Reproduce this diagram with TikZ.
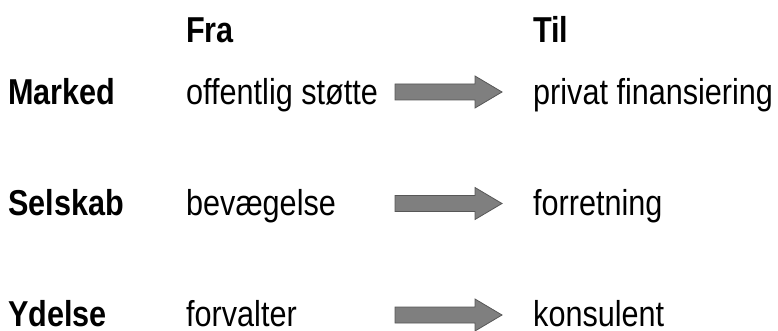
\documentclass[tikz,border=0pt]{standalone}
\usepackage{fontspec}
\setmainfont{Liberation Sans}[FakeStretch=0.85]

\begin{document}
\begin{tikzpicture}[x=1pt, y=-1pt, every node/.style={anchor=base west, inner sep=0pt, font=\fontsize{36}{40}\selectfont}]
  \definecolor{arrowgray}{HTML}{7F7F7F}
  \definecolor{arrowline}{HTML}{575757}
  \useasboundingbox (0,0) rectangle (778,331);
  \node[font=\fontsize{36}{40}\selectfont\bfseries] (fra) at (186,43) {Fra};
  \node[font=\fontsize{36}{40}\selectfont\bfseries] (til) at (533,43) {Til};
  \foreach \i/\kat/\fr/\tl in {0/Marked/offentlig støtte/privat finansiering, 1/Selskab/bevægelse/forretning, 2/Ydelse/forvalter/konsulent} {
    \node[font=\fontsize{36}{40}\selectfont\bfseries] (kat\i) at (8,105+110.5*\i) {\kat};
    \node (fra\i) at (186,105+110.5*\i) {\fr};
    \node (til\i) at (533,105+110.5*\i) {\tl};
    \coordinate (pil\i) at (395,92+111.5*\i);
    \draw[arrowline, fill=arrowgray, line width=0.8pt, line join=miter]
      (pil\i) ++(0,-8) -- ++(80,0) -- ++(0,-8) -- ++(27,16) -- ++(-27,16) -- ++(0,-8) -- ++(-80,0) -- cycle;
  }
\end{tikzpicture}
\end{document}
